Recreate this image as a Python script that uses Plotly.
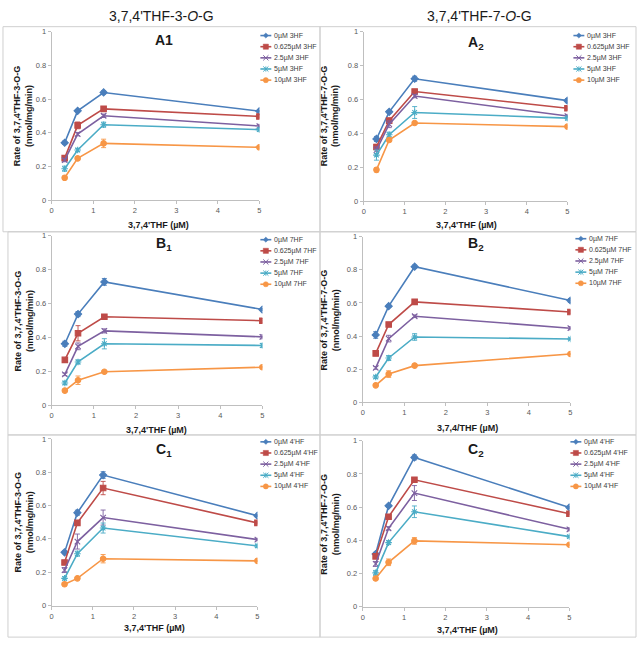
import plotly.graph_objects as go

W, H = 640, 649

# ---------------- data ----------------
x_conc = [0.3125, 0.625, 1.25, 5]

inhib_levels = ["0µM", "0.625µM", "2.5µM", "5µM", "10µM"]

A1_rates = [[0.341, 0.530, 0.639, 0.528],
            [0.250, 0.444, 0.542, 0.497],
            [0.238, 0.392, 0.501, 0.440],
            [0.187, 0.298, 0.448, 0.419],
            [0.133, 0.248, 0.337, 0.314]]
A1_err = [[0.010, 0.005, 0.010, 0.005],
          [0.015, 0.020, 0.010, 0.010],
          [0.010, 0.010, 0.010, 0.010],
          [0.015, 0.010, 0.015, 0.010],
          [0.010, 0.010, 0.025, 0.008]]

A2_rates = [[0.367, 0.527, 0.722, 0.593],
            [0.320, 0.475, 0.647, 0.548],
            [0.301, 0.454, 0.620, 0.502],
            [0.272, 0.392, 0.523, 0.490],
            [0.185, 0.361, 0.461, 0.440]]
A2_err = [[0.015, 0.008, 0.015, 0.012],
          [0.015, 0.015, 0.010, 0.010],
          [0.020, 0.020, 0.010, 0.010],
          [0.030, 0.015, 0.035, 0.012],
          [0.012, 0.010, 0.008, 0.008]]

B1_rates = [[0.363, 0.538, 0.728, 0.565],
            [0.268, 0.425, 0.522, 0.499],
            [0.183, 0.348, 0.439, 0.404],
            [0.132, 0.256, 0.363, 0.353],
            [0.087, 0.148, 0.198, 0.225]]
B1_err = [[0.015, 0.015, 0.020, 0.006],
          [0.010, 0.045, 0.008, 0.012],
          [0.008, 0.020, 0.012, 0.012],
          [0.010, 0.012, 0.030, 0.012],
          [0.008, 0.025, 0.006, 0.006]]

B2_rates = [[0.407, 0.581, 0.819, 0.615],
            [0.296, 0.470, 0.607, 0.546],
            [0.208, 0.385, 0.520, 0.448],
            [0.153, 0.268, 0.395, 0.383],
            [0.103, 0.171, 0.222, 0.292]]
B2_err = [[0.020, 0.008, 0.010, 0.012],
          [0.015, 0.010, 0.012, 0.010],
          [0.008, 0.020, 0.008, 0.010],
          [0.008, 0.015, 0.020, 0.006],
          [0.006, 0.020, 0.006, 0.006]]

C1_rates = [[0.319, 0.557, 0.783, 0.539],
            [0.258, 0.496, 0.705, 0.496],
            [0.213, 0.384, 0.528, 0.396],
            [0.163, 0.311, 0.465, 0.358],
            [0.128, 0.163, 0.281, 0.268]]
C1_err = [[0.008, 0.015, 0.020, 0.006],
          [0.010, 0.010, 0.040, 0.008],
          [0.015, 0.045, 0.045, 0.008],
          [0.010, 0.015, 0.030, 0.010],
          [0.010, 0.006, 0.025, 0.006]]

C2_rates = [[0.317, 0.608, 0.900, 0.598],
            [0.303, 0.542, 0.765, 0.560],
            [0.257, 0.472, 0.685, 0.466],
            [0.203, 0.386, 0.572, 0.422],
            [0.169, 0.267, 0.396, 0.373]]
C2_err = [[0.010, 0.008, 0.015, 0.008],
          [0.010, 0.010, 0.010, 0.008],
          [0.015, 0.010, 0.045, 0.010],
          [0.015, 0.012, 0.035, 0.008],
          [0.008, 0.020, 0.020, 0.006]]

col_titles = ["3,7,4'THF-3-<i>O</i>-G", "3,7,4'THF-7-<i>O</i>-G"]
y_titles = ["Rate of 3,7,4'THF-3-O-G<br>(nmol/mg/min)", "Rate of 3,7,4'THF-7-O-G<br>(nmol/mg/min)"]
x_titles = ["3,7,4'THF (µM)", "3,7,4'THF (µM)", "3,7,4'THF (µM)", "3,7,4/THF (µM)",
            "3,7,4'THF (µM)", "3,7,4'THF (µM)"]
panel_labels = ["A1", "A<sub>2</sub>", "B<sub>1</sub>", "B<sub>2</sub>", "C<sub>1</sub>", "C<sub>2</sub>"]
inhibitors = ["3HF", "3HF", "7HF", "7HF", "4'HF", "4'HF"]

# ---------------- styles ----------------
colors = ["#4A7EBB", "#BE4B48", "#7D60A0", "#4BACC6", "#F79646"]
symbols = ["diamond", "square", "x-thin-open", "asterisk-open", "circle"]
msizes = [5.5, 5.5, 5.5, 5.5, 5.5]

FONT = "Liberation Sans, Arial, sans-serif"

# panel geometry in pixels: (x0, x1, ytop, ybottom)
panels = [
    dict(rates=A1_rates, err=A1_err, dom=(50, 259, 28, 199), col=0,
         lab=(163, 37), leg=(260, 32), xt=(157, 224), yt=(22, 113)),
    dict(rates=A2_rates, err=A2_err, dom=(364, 569, 28, 200), col=1,
         lab=(477, 40), leg=(575, 32), xt=(467, 224), yt=(330, 113)),
    dict(rates=B1_rates, err=B1_err, dom=(50, 262, 235, 407), col=0,
         lab=(163, 243), leg=(260, 239), xt=(155, 432), yt=(22, 321)),
    dict(rates=B2_rates, err=B2_err, dom=(363, 572, 236, 404), col=1,
         lab=(477, 243), leg=(577, 238), xt=(468, 430), yt=(330, 320)),
    dict(rates=C1_rates, err=C1_err, dom=(50, 257, 441, 610), col=0,
         lab=(163, 452), leg=(260, 444), xt=(153, 633), yt=(22, 525)),
    dict(rates=C2_rates, err=C2_err, dom=(363, 571, 443, 611), col=1,
         lab=(477, 452), leg=(572, 444), xt=(468, 635), yt=(330, 527)),
]

def px(x):
    return x / W

def py(y):
    return 1 - y / H

fig = go.Figure()
annotations = []
shapes = []

def pline(xa, ya, xb, yb, color, w=1.0):
    shapes.append(dict(type="line", xref="paper", yref="paper",
                       x0=px(xa), x1=px(xb), y0=py(ya), y1=py(yb),
                       line=dict(color=color, width=w)))

def legend_marker(kind, cx, cy, color):
    r = 2.6
    if kind == 0:  # diamond
        path = (f"M {px(cx)} {py(cy - r)} L {px(cx + r)} {py(cy)} "
                f"L {px(cx)} {py(cy + r)} L {px(cx - r)} {py(cy)} Z")
        shapes.append(dict(type="path", xref="paper", yref="paper", path=path,
                           fillcolor=color, line=dict(color=color, width=0.5)))
    elif kind == 1:  # square
        shapes.append(dict(type="rect", xref="paper", yref="paper",
                           x0=px(cx - r), x1=px(cx + r), y0=py(cy + r), y1=py(cy - r),
                           fillcolor=color, line=dict(color=color, width=0.5)))
    elif kind == 2:  # x
        pline(cx - r, cy - r, cx + r, cy + r, color, 1.0)
        pline(cx - r, cy + r, cx + r, cy - r, color, 1.0)
    elif kind == 3:  # asterisk
        pline(cx - r, cy - r, cx + r, cy + r, color, 1.0)
        pline(cx - r, cy + r, cx + r, cy - r, color, 1.0)
        pline(cx, cy - r, cx, cy + r, color, 1.0)
    else:  # circle
        shapes.append(dict(type="circle", xref="paper", yref="paper",
                           x0=px(cx - r), x1=px(cx + r), y0=py(cy + r), y1=py(cy - r),
                           fillcolor=color, line=dict(color=color, width=0.5)))

# panel frames
frames = [(1, 23, 320, 231), (320, 23, 638, 231),
          (6, 231, 320, 437), (320, 231, 638, 437),
          (6, 437, 320, 642), (320, 437, 638, 642)]
for (x0, y0, x1, y1) in frames:
    shapes.append(dict(type="rect", xref="paper", yref="paper",
                       x0=px(x0), x1=px(x1), y0=py(y1), y1=py(y0),
                       line=dict(color="#CFCFCF", width=1), layer="below"))

axis_common = dict(showline=True, linecolor="#BFBFBF", linewidth=1,
                   ticks="outside", ticklen=3, tickcolor="#BFBFBF",
                   showgrid=False, zeroline=False,
                   tickfont=dict(family=FONT, size=7.5, color="#595959"))

for i, p in enumerate(panels):
    n = i + 1
    xa = "x" if n == 1 else f"x{n}"
    ya = "y" if n == 1 else f"y{n}"
    x0, x1, yt, yb = p["dom"]
    fig.update_layout(**{
        ("xaxis" if n == 1 else f"xaxis{n}"): dict(
            domain=[px(x0), px(x1)], range=[0, 5], dtick=1, tick0=0,
            anchor=ya, **axis_common),
        ("yaxis" if n == 1 else f"yaxis{n}"): dict(
            domain=[py(yb), py(yt)], range=[0, 1], dtick=0.2, tick0=0,
            anchor=xa, **axis_common),
    })
    for s in range(5):
        fig.add_trace(go.Scatter(
            x=x_conc, y=p["rates"][s], xaxis=xa, yaxis=ya,
            mode="lines+markers", showlegend=False,
            line=dict(color=colors[s], width=1.6),
            marker=dict(symbol=symbols[s], size=msizes[s], color=colors[s],
                        line=dict(color=colors[s], width=1.1)),
            error_y=dict(type="data", array=p["err"][s], visible=True,
                         color=colors[s], thickness=0.9, width=2.5),
            name=f"{inhib_levels[s]} {inhibitors[i]}",
        ))
    # panel label
    annotations.append(dict(text=f"<b>{panel_labels[i]}</b>", xref="paper", yref="paper",
                            x=px(p["lab"][0]), y=py(p["lab"][1]),
                            showarrow=False, xanchor="center", yanchor="middle",
                            font=dict(family=FONT, size=14, color="#1a1a1a")))
    # x title
    annotations.append(dict(text=f"<b>{x_titles[i]}</b>", xref="paper", yref="paper",
                            x=px(p["xt"][0]), y=py(p["xt"][1]),
                            showarrow=False, xanchor="center", yanchor="middle",
                            font=dict(family=FONT, size=9, color="#1a1a1a")))
    # y title
    annotations.append(dict(text=f"<b>{y_titles[p['col']]}</b>", xref="paper", yref="paper",
                            x=px(p["yt"][0]), y=py(p["yt"][1]), textangle=-90,
                            showarrow=False, xanchor="center", yanchor="middle",
                            font=dict(family=FONT, size=9, color="#1a1a1a")))
    # manual legend
    lx, ly = p["leg"]
    for s in range(5):
        yy = ly + s * 11.3
        pline(lx, yy, lx + 11, yy, colors[s], 1.6)
        legend_marker(s, lx + 5.5, yy, colors[s])
        annotations.append(dict(text=f"{inhib_levels[s]} {inhibitors[i]}",
                                xref="paper", yref="paper",
                                x=px(lx + 12), y=py(yy), showarrow=False,
                                xanchor="left", yanchor="middle",
                                font=dict(family=FONT, size=7, color="#404040")))

# column titles
for c, cx in enumerate([160, 480]):
    annotations.append(dict(text=col_titles[c], xref="paper", yref="paper",
                            x=px(cx), y=py(12), showarrow=False,
                            xanchor="center", yanchor="middle",
                            font=dict(family=FONT, size=14, color="#1a1a1a")))

fig.update_layout(width=W, height=H, margin=dict(l=0, r=0, t=0, b=0),
                  paper_bgcolor="white", plot_bgcolor="white",
                  annotations=annotations, shapes=shapes, showlegend=False)

fig.write_html("out.html", config={"displayModeBar": False},
               post_script="document.body.style.margin='0';document.body.style.padding='0';")
